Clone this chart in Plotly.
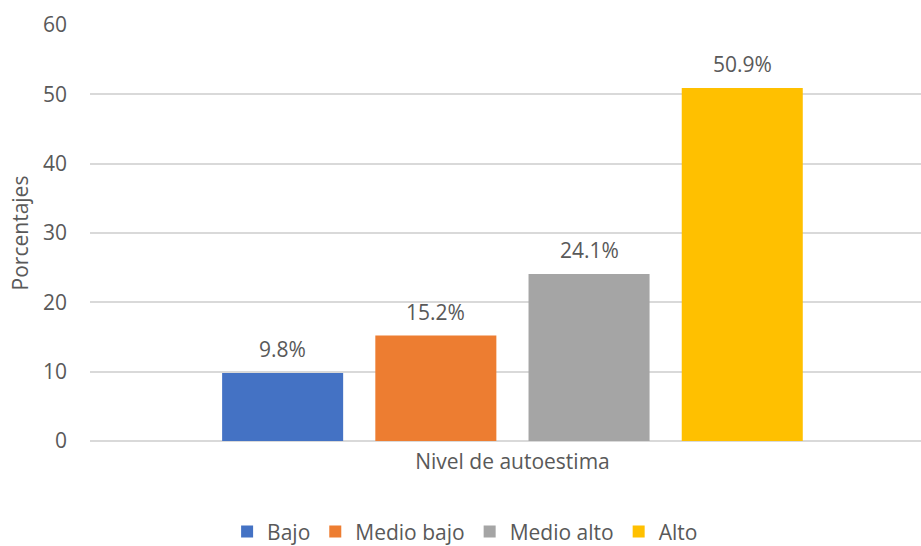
import plotly.graph_objects as go

categories = ["Nivel de autoestima"]
series_names = ["Bajo", "Medio bajo", "Medio alto", "Alto"]
series_values = [9.8, 15.2, 24.1, 50.9]
colors = ["#4472C4", "#ED7D31", "#A5A5A5", "#FFC000"]
y_ticks = [0, 10, 20, 30, 40, 50, 60]

FONT = "Open Sans"
TEXT = "#595959"
SIZE = 21
BARGAP = 0.25

fig = go.Figure()
for name, value, color in zip(series_names, series_values, colors):
	fig.add_trace(go.Bar(x=categories, y=[value], name=name, marker=dict(color=color, line=dict(width=0))))

# data labels above each bar of the group
slot = (1 - BARGAP) / len(series_values)
for i, value in enumerate(series_values):
	fig.add_annotation(
		x=(i - (len(series_values) - 1) / 2) * slot,
		y=value,
		xref="x",
		yref="y",
		text=f"{value}%",
		showarrow=False,
		yanchor="bottom",
		yshift=8,
		font=dict(family=FONT, size=SIZE, color=TEXT),
	)

fig.update_layout(
	width=921,
	height=546,
	margin=dict(l=90, r=0, t=25, b=105),
	paper_bgcolor="white",
	plot_bgcolor="white",
	barmode="group",
	bargap=BARGAP,
	bargroupgap=0.21,
	hovermode=False,
	font=dict(family=FONT, size=SIZE, color=TEXT),
	legend=dict(
		orientation="h",
		xref="container",
		yref="container",
		x=0.505,
		xanchor="center",
		y=0.026,
		yanchor="middle",
		font=dict(family=FONT, size=SIZE, color=TEXT),
		traceorder="normal",
	),
)
fig.update_xaxes(
	range=[-0.517, 0.5],
	showgrid=False,
	showline=False,
	ticklabelstandoff=6,
	tickfont=dict(family=FONT, size=SIZE, color=TEXT),
)
fig.update_yaxes(
	range=[0, 60],
	tickvals=y_ticks,
	showgrid=True,
	gridcolor="#D9D9D9",
	gridwidth=1.5,
	zeroline=True,
	zerolinecolor="#D9D9D9",
	zerolinewidth=1.5,
	showline=False,
	ticklabelstandoff=22,
	tickfont=dict(family=FONT, size=SIZE, color=TEXT),
	title=dict(text="Porcentajes", font=dict(family=FONT, size=SIZE, color=TEXT), standoff=8),
)

# drop the page's default body margin so the figure fills the window
fig.write_html(
	"out.html",
	config={"displayModeBar": False},
	post_script="document.body.style.margin='0';",
)
